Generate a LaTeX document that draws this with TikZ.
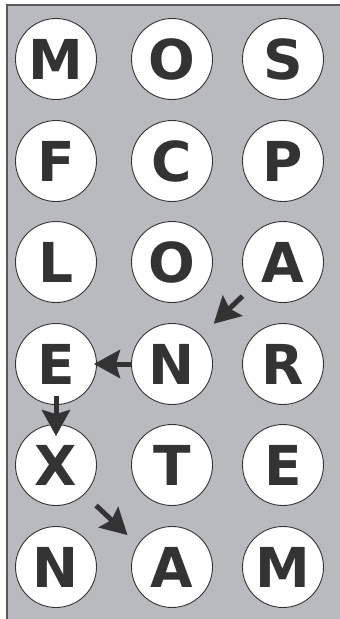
\documentclass[tikz,border=0pt]{standalone}
\usepackage{fontspec}
\setsansfont{DejaVu Sans}
\usetikzlibrary{arrows.meta}
\definecolor{panelgray}{HTML}{B9BABE}
\definecolor{edgegray}{HTML}{5A5A5C}
\definecolor{inkgray}{HTML}{333333}

\begin{document}
\begin{tikzpicture}[x=1pt, y=-1pt, >={Stealth[length=26pt, width=28pt, inset=4pt]},
  tile/.style={circle, draw=inkgray, fill=white, line width=0.9pt, minimum size=81pt,
    inner sep=0pt, text=inkgray, font=\fontsize{55}{55}\selectfont\sffamily\bfseries},
  hop/.style={->, inkgray, line width=5pt}]

% Page and panel (y runs downwards, 1pt per pixel)
\useasboundingbox (0,0) rectangle (340,619);
\fill[white] (0,0) rectangle (340,619);
\fill[panelgray] (7,5) rectangle (340,619);
\draw[edgegray, line width=1.5pt] (7,619) -- (7,5) -- (340,5);

% Letter tiles: columns at x = 56, 172, 283; rows at y = 59, 161, 262, 364, 465, 567
\foreach \ltr/\x/\y/\name in {
  M/56/59/t11, O/172/59/t12, S/283/59/t13,
  F/56/161/t21, C/172/161/t22, P/283/161/t23,
  L/56/262/t31, O/172/262/t32, A/283/262/t33,
  E/56/364/t41, N/172/364/t42, R/283/364/t43,
  X/56/465/t51, T/172/465/t52, E/283/465/t53,
  N/56/567/t61, A/172/567/t62, M/283/567/t63} {
  \node[tile] (\name) at (\x,\y) {\ltr};
}

% Path through the word
\draw[hop, shorten <=12pt, shorten >=17pt] (t33.219) -- (t42.44);
\draw[hop, shorten >=-3pt] (t42.west) -- (t41.east);
\draw[hop, shorten <=-9pt, shorten >=-12pt] (t41.south) -- (t51.north);
\draw[hop, shorten <=16pt, shorten >=14pt] (t51.-46) -- (t62.147);

\end{tikzpicture}
\end{document}
